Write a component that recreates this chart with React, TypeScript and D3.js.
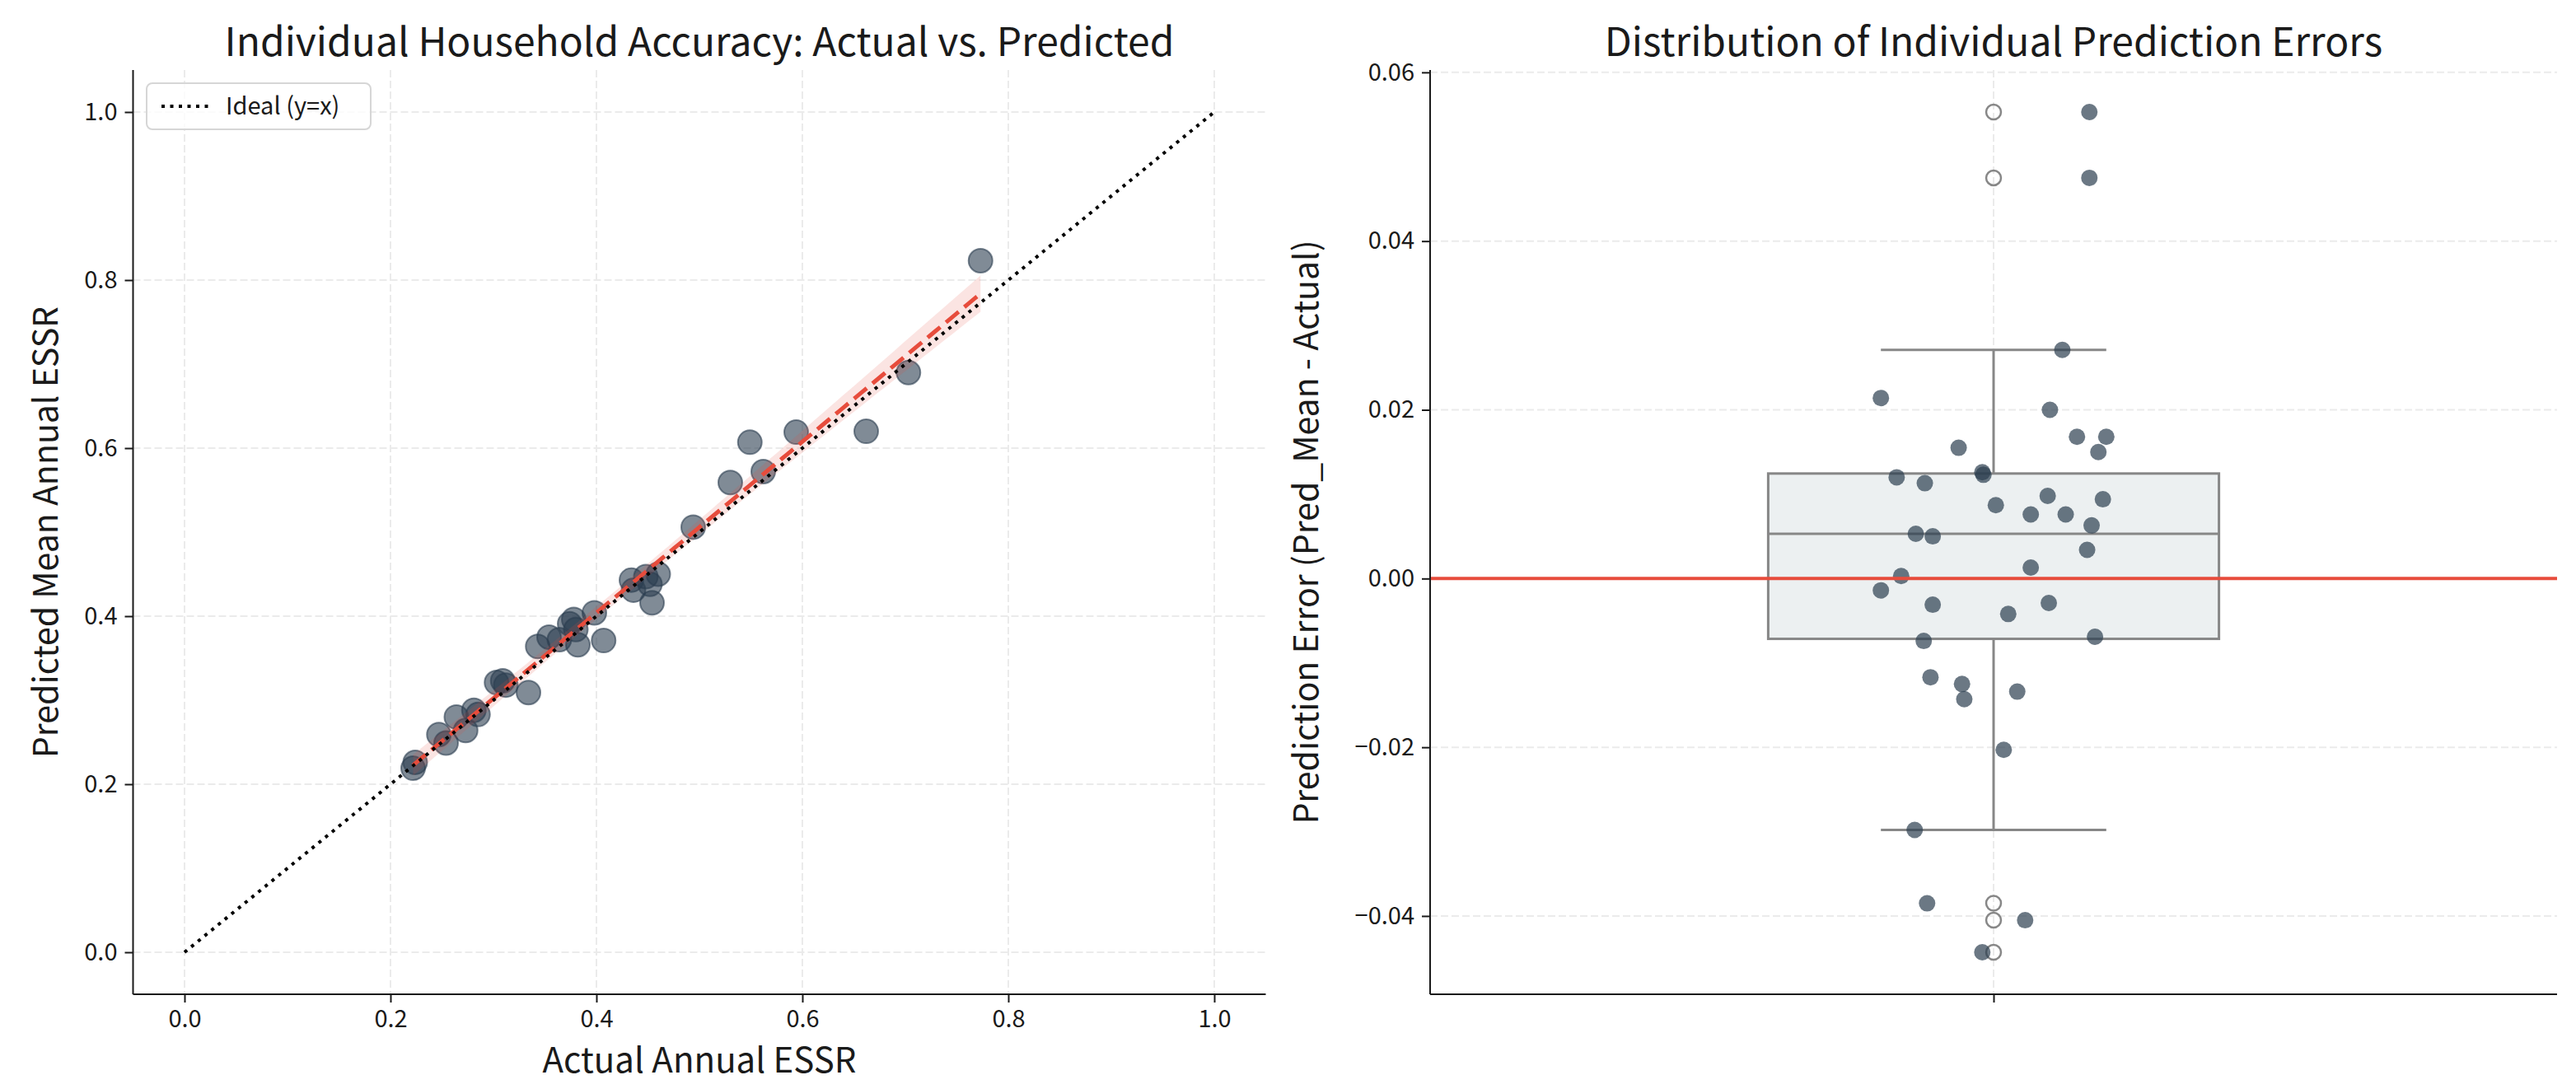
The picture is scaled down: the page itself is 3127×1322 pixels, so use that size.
import { useEffect, useRef } from "react"
import * as d3 from "d3"

// Left panel: actual vs predicted annual ESSR per household
const actualEssr = [
  0.222, 0.224, 0.247, 0.254, 0.264, 0.273, 0.281, 0.285, 0.303, 0.309, 0.312, 0.334,
  0.343, 0.354, 0.364, 0.374, 0.378, 0.38, 0.382, 0.398, 0.407, 0.434, 0.436, 0.448,
  0.452, 0.454, 0.46, 0.494, 0.53, 0.549, 0.562, 0.594, 0.662, 0.703, 0.773,
]
const predictedEssr = [
  0.219, 0.226, 0.259, 0.249, 0.28, 0.264, 0.288, 0.283, 0.321, 0.323, 0.318, 0.309,
  0.364, 0.375, 0.372, 0.391, 0.396, 0.384, 0.366, 0.404, 0.371, 0.443, 0.431, 0.447,
  0.438, 0.416, 0.45, 0.506, 0.559, 0.607, 0.572, 0.619, 0.62, 0.69, 0.823,
]

// Right panel: prediction errors (Pred_Mean - Actual) and the strip jitter
const predErrors = [
  0.0553, 0.0475, 0.0271, 0.0214, 0.02, 0.0168, 0.0168, 0.0155, 0.015, 0.0126, 0.0123,
  0.012, 0.0113, 0.0098, 0.0094, 0.0087, 0.0076, 0.0076, 0.0063, 0.0053, 0.005, 0.0034,
  0.0013, 0.0003, -0.0014, -0.0031, -0.0029, -0.0042, -0.0074, -0.0069, -0.0117, -0.0125,
  -0.0143, -0.0134, -0.0203, -0.0298, -0.0385, -0.0405, -0.0443,
]
const errorJitter = [
  0.085, 0.085, 0.061, -0.1, 0.05, 0.074, 0.1, -0.031, 0.093, -0.01, -0.009, -0.086,
  -0.061, 0.048, 0.097, 0.002, 0.033, 0.064, 0.087, -0.069, -0.054, 0.083, 0.033, -0.082,
  -0.1, -0.054, 0.049, 0.013, -0.062, 0.09, -0.056, -0.028, -0.026, 0.021, 0.009, -0.07,
  -0.059, 0.028, -0.01,
]

const unitTicks = [0, 0.2, 0.4, 0.6, 0.8, 1.0]
const errorTicks = [-0.04, -0.02, 0, 0.02, 0.04, 0.06]
const idealLine = [0, 1]

const W = 3127
const H = 1322
const FONT = "'Noto Sans CJK JP', 'Noto Sans', sans-serif"
const SPINE = "#1a1a1a"
const GRID = "#ebebeb"
const RED = "#e74c3c"
const DARK = "#2c3e50"

export default function App() {
  const svgRef = useRef<SVGSVGElement>(null)

  useEffect(() => {
    if (!svgRef.current) return
    const svg = d3.select(svgRef.current)
    svg.selectAll("*").remove()

    svg.append("rect").attr("width", W).attr("height", H).attr("fill", "white")

    const pad = (lo: number, hi: number) => [lo - (hi - lo) * 0.05, hi + (hi - lo) * 0.05]

    // ---------- left panel ----------
    const L = { left: 161.5, right: 1536.5, top: 85, bottom: 1207 }
    const allX = [...actualEssr, ...idealLine]
    const allY = [...predictedEssr, ...idealLine]
    const x = d3.scaleLinear().domain(pad(d3.min(allX)!, d3.max(allX)!)).range([L.left, L.right])
    const y = d3.scaleLinear().domain(pad(d3.min(allY)!, d3.max(allY)!)).range([L.bottom, L.top])

    const gl = svg.append("g")

    // grid
    gl.selectAll(".gx")
      .data(unitTicks)
      .enter()
      .append("line")
      .attr("x1", (d) => x(d))
      .attr("x2", (d) => x(d))
      .attr("y1", L.top)
      .attr("y2", L.bottom)
      .attr("stroke", GRID)
      .attr("stroke-width", 2)
      .attr("stroke-dasharray", "9,4")
    gl.selectAll(".gy")
      .data(unitTicks)
      .enter()
      .append("line")
      .attr("x1", L.left)
      .attr("x2", L.right)
      .attr("y1", (d) => y(d))
      .attr("y2", (d) => y(d))
      .attr("stroke", GRID)
      .attr("stroke-width", 2)
      .attr("stroke-dasharray", "9,4")

    // scatter
    gl.selectAll(".pt")
      .data(actualEssr)
      .enter()
      .append("circle")
      .attr("cx", (d) => x(d))
      .attr("cy", (d, i) => y(predictedEssr[i]))
      .attr("r", 14.5)
      .attr("fill", DARK)
      .attr("fill-opacity", 0.6)
      .attr("stroke", DARK)
      .attr("stroke-opacity", 0.6)
      .attr("stroke-width", 2)

    // regression fit + 95% CI
    const n = actualEssr.length
    const mx = d3.mean(actualEssr)!
    const my = d3.mean(predictedEssr)!
    const sxx = d3.sum(actualEssr, (v) => (v - mx) ** 2)
    const sxy = d3.sum(actualEssr, (v, i) => (v - mx) * (predictedEssr[i] - my))
    const slope = sxy / sxx
    const intercept = my - slope * mx
    const s = Math.sqrt(d3.sum(actualEssr, (v, i) => (predictedEssr[i] - (intercept + slope * v)) ** 2) / (n - 2))
    const tCrit = 2.03
    const [xMin, xMax] = d3.extent(actualEssr) as [number, number]
    const grid = d3.range(0, 101).map((k) => xMin + ((xMax - xMin) * k) / 100)
    const fit = grid.map((gx) => {
      const yh = intercept + slope * gx
      const se = s * Math.sqrt(1 / n + (gx - mx) ** 2 / sxx)
      return { x: gx, y: yh, lo: yh - tCrit * se, hi: yh + tCrit * se }
    })

    gl.append("path")
      .datum(fit)
      .attr(
        "d",
        d3
          .area<any>()
          .x((d) => x(d.x))
          .y0((d) => y(d.lo))
          .y1((d) => y(d.hi))
      )
      .attr("fill", RED)
      .attr("fill-opacity", 0.15)

    gl.append("path")
      .datum(fit)
      .attr(
        "d",
        d3
          .line<any>()
          .x((d) => x(d.x))
          .y((d) => y(d.y))
      )
      .attr("fill", "none")
      .attr("stroke", RED)
      .attr("stroke-width", 5)
      .attr("stroke-dasharray", "20,9")

    // ideal y = x
    gl.append("line")
      .attr("x1", x(idealLine[0]))
      .attr("y1", y(idealLine[0]))
      .attr("x2", x(idealLine[1]))
      .attr("y2", y(idealLine[1]))
      .attr("stroke", "black")
      .attr("stroke-width", 4)
      .attr("stroke-dasharray", "4,6.5")

    // axes
    const xAxis = gl
      .append("g")
      .attr("transform", `translate(0,${L.bottom})`)
      .call(d3.axisBottom(x).tickValues(unitTicks).tickFormat(d3.format(".1f")).tickSize(10).tickPadding(9))
    const yAxis = gl
      .append("g")
      .attr("transform", `translate(${L.left},0)`)
      .call(d3.axisLeft(y).tickValues(unitTicks).tickFormat(d3.format(".1f")).tickSize(10).tickPadding(9))
    ;[xAxis, yAxis].forEach((a) => {
      a.select(".domain").remove()
      a.selectAll("line").attr("stroke", SPINE).attr("stroke-width", 2)
      a.selectAll("text").attr("font-family", FONT).attr("font-size", 29).attr("fill", "#1a1a1a")
    })
    gl.append("line").attr("x1", L.left).attr("x2", L.left).attr("y1", L.top).attr("y2", L.bottom).attr("stroke", SPINE).attr("stroke-width", 2)
    gl.append("line").attr("x1", L.left).attr("x2", L.right).attr("y1", L.bottom).attr("y2", L.bottom).attr("stroke", SPINE).attr("stroke-width", 2)

    // legend
    const lg = gl.append("g")
    lg.append("rect")
      .attr("x", 178)
      .attr("y", 101)
      .attr("width", 272)
      .attr("height", 56)
      .attr("rx", 7)
      .attr("fill", "white")
      .attr("fill-opacity", 0.8)
      .attr("stroke", "#d6d6d6")
      .attr("stroke-width", 2)
    lg.append("line")
      .attr("x1", 196)
      .attr("x2", 254)
      .attr("y1", 129)
      .attr("y2", 129)
      .attr("stroke", "black")
      .attr("stroke-width", 4)
      .attr("stroke-dasharray", "4,6.5")
    lg.append("text")
      .attr("x", 274)
      .attr("y", 129)
      .attr("dy", "0.35em")
      .attr("font-family", FONT)
      .attr("font-size", 29)
      .attr("fill", "#1a1a1a")
      .text("Ideal (y=x)")

    // titles and labels
    gl.append("text")
      .attr("x", (L.left + L.right) / 2)
      .attr("y", 68)
      .attr("text-anchor", "middle")
      .attr("font-family", FONT)
      .attr("font-size", 48)
      .attr("fill", "#1a1a1a")
      .text("Individual Household Accuracy: Actual vs. Predicted")
    gl.append("text")
      .attr("x", (L.left + L.right) / 2)
      .attr("y", 1302)
      .attr("text-anchor", "middle")
      .attr("font-family", FONT)
      .attr("font-size", 42)
      .attr("fill", "#1a1a1a")
      .text("Actual Annual ESSR")
    gl.append("text")
      .attr("transform", `translate(70,${(L.top + L.bottom) / 2}) rotate(-90)`)
      .attr("text-anchor", "middle")
      .attr("font-family", FONT)
      .attr("font-size", 41)
      .attr("fill", "#1a1a1a")
      .text("Predicted Mean Annual ESSR")

    // ---------- right panel ----------
    const R = { left: 1736, right: 3104, top: 85, bottom: 1207 }
    const [eMin, eMax] = d3.extent(predErrors) as [number, number]
    const ye = d3.scaleLinear().domain(pad(eMin, eMax)).range([R.bottom, R.top])
    const xc = d3.scaleLinear().domain([-0.5, 0.5]).range([R.left, R.right])

    const gr = svg.append("g")

    gr.selectAll(".gy")
      .data(errorTicks)
      .enter()
      .append("line")
      .attr("x1", R.left)
      .attr("x2", R.right)
      .attr("y1", (d) => ye(d))
      .attr("y2", (d) => ye(d))
      .attr("stroke", GRID)
      .attr("stroke-width", 2)
      .attr("stroke-dasharray", "9,4")
    gr.append("line")
      .attr("x1", xc(0))
      .attr("x2", xc(0))
      .attr("y1", R.top)
      .attr("y2", R.bottom)
      .attr("stroke", GRID)
      .attr("stroke-width", 2)
      .attr("stroke-dasharray", "9,4")

    // box stats (numpy-style linear quantiles, 1.5 IQR whiskers)
    const sorted = [...predErrors].sort(d3.ascending)
    const q1 = d3.quantileSorted(sorted, 0.25)!
    const med = d3.quantileSorted(sorted, 0.5)!
    const q3 = d3.quantileSorted(sorted, 0.75)!
    const iqr = q3 - q1
    const inside = sorted.filter((v) => v >= q1 - 1.5 * iqr && v <= q3 + 1.5 * iqr)
    const wLo = d3.min(inside)!
    const wHi = d3.max(inside)!
    const fliers = sorted.filter((v) => v < wLo || v > wHi)

    const boxHalf = 0.2
    const capHalf = 0.1
    const BOX = "#878787"

    gr.append("line").attr("x1", xc(0)).attr("x2", xc(0)).attr("y1", ye(q3)).attr("y2", ye(wHi)).attr("stroke", BOX).attr("stroke-width", 3)
    gr.append("line").attr("x1", xc(0)).attr("x2", xc(0)).attr("y1", ye(q1)).attr("y2", ye(wLo)).attr("stroke", BOX).attr("stroke-width", 3)
    gr.selectAll(".cap")
      .data([wLo, wHi])
      .enter()
      .append("line")
      .attr("x1", xc(-capHalf))
      .attr("x2", xc(capHalf))
      .attr("y1", (d) => ye(d))
      .attr("y2", (d) => ye(d))
      .attr("stroke", BOX)
      .attr("stroke-width", 3)
    gr.append("rect")
      .attr("x", xc(-boxHalf))
      .attr("y", ye(q3))
      .attr("width", xc(boxHalf) - xc(-boxHalf))
      .attr("height", ye(q1) - ye(q3))
      .attr("fill", "#ecf0f1")
      .attr("stroke", BOX)
      .attr("stroke-width", 3)
    gr.append("line")
      .attr("x1", xc(-boxHalf))
      .attr("x2", xc(boxHalf))
      .attr("y1", ye(med))
      .attr("y2", ye(med))
      .attr("stroke", BOX)
      .attr("stroke-width", 3)
    gr.selectAll(".flier")
      .data(fliers)
      .enter()
      .append("circle")
      .attr("cx", xc(0))
      .attr("cy", (d) => ye(d))
      .attr("r", 9)
      .attr("fill", "none")
      .attr("stroke", BOX)
      .attr("stroke-width", 2.5)

    // strip points
    gr.selectAll(".strip")
      .data(predErrors)
      .enter()
      .append("circle")
      .attr("cx", (d, i) => xc(errorJitter[i]))
      .attr("cy", (d) => ye(d))
      .attr("r", 10)
      .attr("fill", DARK)
      .attr("fill-opacity", 0.7)

    // zero reference
    gr.append("line")
      .attr("x1", R.left)
      .attr("x2", R.right)
      .attr("y1", ye(0))
      .attr("y2", ye(0))
      .attr("stroke", RED)
      .attr("stroke-width", 4)

    // axes
    const eAxis = gr
      .append("g")
      .attr("transform", `translate(${R.left},0)`)
      .call(
        d3
          .axisLeft(ye)
          .tickValues(errorTicks)
          .tickFormat((d) => d3.format(".2f")(d as number).replace("-", "\u2212"))
          .tickSize(10)
          .tickPadding(9)
      )
    const cAxis = gr
      .append("g")
      .attr("transform", `translate(0,${R.bottom})`)
      .call(d3.axisBottom(xc).tickValues([0]).tickFormat(() => "").tickSize(10))
    ;[eAxis, cAxis].forEach((a) => {
      a.select(".domain").remove()
      a.selectAll("line").attr("stroke", SPINE).attr("stroke-width", 2)
      a.selectAll("text").attr("font-family", FONT).attr("font-size", 29).attr("fill", "#1a1a1a")
    })
    gr.append("line").attr("x1", R.left).attr("x2", R.left).attr("y1", R.top).attr("y2", R.bottom).attr("stroke", SPINE).attr("stroke-width", 2)
    gr.append("line").attr("x1", R.left).attr("x2", R.right).attr("y1", R.bottom).attr("y2", R.bottom).attr("stroke", SPINE).attr("stroke-width", 2)

    gr.append("text")
      .attr("x", (R.left + R.right) / 2)
      .attr("y", 68)
      .attr("text-anchor", "middle")
      .attr("font-family", FONT)
      .attr("font-size", 48)
      .attr("fill", "#1a1a1a")
      .text("Distribution of Individual Prediction Errors")
    gr.append("text")
      .attr("transform", `translate(1600,${(R.top + R.bottom) / 2}) rotate(-90)`)
      .attr("text-anchor", "middle")
      .attr("font-family", FONT)
      .attr("font-size", 41)
      .attr("fill", "#1a1a1a")
      .text("Prediction Error (Pred_Mean - Actual)")
  }, [])

  return (
    <div style={{ position: "absolute", left: 0, top: 0 }}>
      <svg ref={svgRef} width={W} height={H} style={{ display: "block" }}></svg>
    </div>
  )
}
